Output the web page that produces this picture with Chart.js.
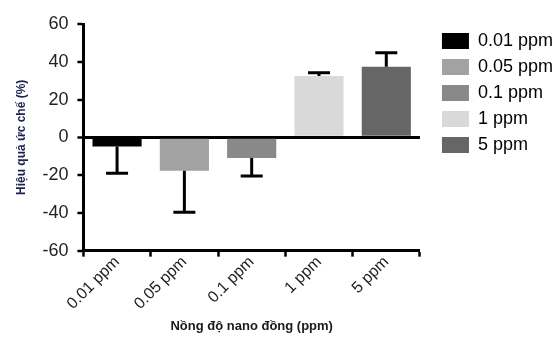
<!DOCTYPE html>
<html>
<head>
<meta charset="utf-8">
<script src="https://cdn.jsdelivr.net/npm/chart.js@4"></script>
<style>
  body { margin: 0; background: #fff; }
  #wrap { width: 555px; height: 340px; position: relative; }
</style>
</head>
<body>
<div id="wrap"><canvas id="chart"></canvas></div>
<script>
// Data
const categories = ['0.01 ppm', '0.05 ppm', '0.1 ppm', '1 ppm', '5 ppm'];
const inhibition = [-4.8, -17.7, -11, 32.5, 37.3];
const errorSD = [14.2, 22, 9.5, 1.7, 7.5];
const barColors = ['#000000', '#a2a2a2', '#898989', '#d9d9d9', '#666666'];
const yTicks = [-60, -40, -20, 0, 20, 40, 60];

const FONT = "'Liberation Sans', Arial, sans-serif";

// one-sided error bars (away from zero), like the original figure
const errorBars = {
    id: 'errorBars',
    afterDatasetsDraw(chart) {
        const ctx = chart.ctx;
        const meta = chart.getDatasetMeta(0);
        const y = chart.scales.y;
        ctx.save();
        ctx.strokeStyle = '#000';
        ctx.lineWidth = 3;
        meta.data.forEach((bar, i) => {
            const v = inhibition[i];
            const tip = v >= 0 ? v + errorSD[i] : v - errorSD[i];
            const y0 = y.getPixelForValue(v);
            const y1 = y.getPixelForValue(tip);
            ctx.beginPath();
            ctx.moveTo(bar.x, y0);
            ctx.lineTo(bar.x, y1);
            ctx.moveTo(bar.x - 11, y1);
            ctx.lineTo(bar.x + 11, y1);
            ctx.stroke();
        });
        ctx.restore();
    }
};

new Chart(document.getElementById('chart'), {
    type: 'bar',
    data: {
        labels: categories,
        datasets: [{
            data: inhibition,
            backgroundColor: barColors,
            borderWidth: 0,
            barPercentage: 0.73,
            categoryPercentage: 1
        }]
    },
    options: {
        responsive: true,
        maintainAspectRatio: false,
        animation: false,
        layout: { padding: { top: 24, left: 14, right: -8, bottom: 0 } },
        plugins: {
            tooltip: { enabled: false },
            legend: {
                position: 'right',
                align: 'start',
                maxWidth: 200,
                labels: {
                    boxWidth: 27,
                    boxHeight: 16,
                    padding: 8,
                    color: '#444',
                    font: { family: FONT, size: 18 },
                    generateLabels: () => categories.map((c, i) => ({
                        text: c,
                        fillStyle: barColors[i],
                        strokeStyle: barColors[i],
                        lineWidth: 0,
                        index: i
                    }))
                }
            }
        },
        scales: {
            x: {
                grid: {
                    display: true,
                    drawOnChartArea: false,
                    tickLength: 6,
                    tickWidth: 2.5,
                    tickColor: '#000'
                },
                border: { color: '#000', width: 3 },
                ticks: {
                    minRotation: 45,
                    maxRotation: 45,
                    padding: -4,
                    color: '#222',
                    font: { family: FONT, size: 16 }
                },
                title: {
                    display: true,
                    text: 'Nồng độ nano đồng (ppm)',
                    color: '#1a1a1a',
                    font: { family: FONT, size: 13, weight: 'bold' },
                    padding: { top: 9, bottom: 6 }
                }
            },
            y: {
                min: -60,
                max: 60,
                afterBuildTicks: axis => { axis.ticks = yTicks.map(v => ({ value: v })); },
                grid: {
                    drawOnChartArea: true,
                    color: c => (c.tick && c.tick.value === 0 ? '#000' : 'rgba(0,0,0,0)'),
                    lineWidth: c => (c.tick && c.tick.value === 0 ? 3 : 0),
                    tickColor: '#000',
                    tickWidth: 2.5,
                    tickLength: 6
                },
                border: { color: '#000', width: 3 },
                ticks: {
                    color: '#222',
                    padding: 9,
                    font: { family: FONT, size: 18 }
                },
                title: {
                    display: true,
                    text: 'Hiệu quả ức chế (%)',
                    color: '#1c2150',
                    font: { family: FONT, size: 12, weight: 'bold' },
                    padding: { top: 0, bottom: 5 }
                }
            },
            // empty spacer between the plot and the legend
            gap: {
                type: 'linear',
                position: 'right',
                display: true,
                grid: { display: false },
                border: { display: false },
                ticks: { display: false },
                afterFit: s => { s.width = 14; }
            }
        }
    },
    plugins: [errorBars]
});
</script>
</body>
</html>
